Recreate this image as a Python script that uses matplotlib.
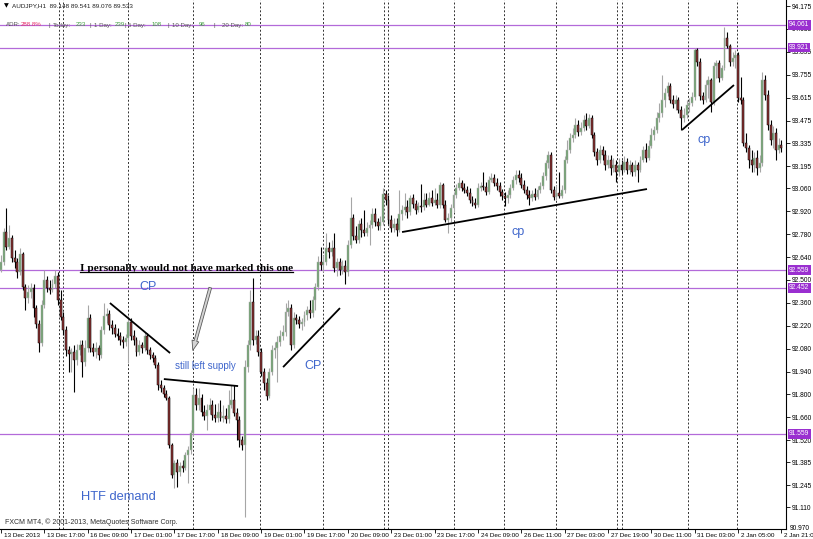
import matplotlib
matplotlib.use("Agg")
import matplotlib.pyplot as plt
import matplotlib.transforms as mtransforms
from matplotlib.lines import Line2D
import numpy as np

plt.rcParams['font.family'] = ['Liberation Sans', 'DejaVu Sans']

# AUDJPY H1 candles (open = previous close)
first_open = 92.561
close = [
    92.610, 92.793, 92.701, 92.756, 92.634, 92.610, 92.549, 92.659, 92.457, 92.389,
    92.426, 92.451, 92.328, 92.231, 92.115, 92.346, 92.500, 92.451, 92.438, 92.476,
    92.524, 92.377, 92.273, 92.194, 92.071, 92.047, 92.059, 92.010, 92.071, 92.102,
    91.998, 92.084, 92.267, 92.084, 92.059, 92.084, 92.040, 92.194, 92.279, 92.292,
    92.225, 92.206, 92.170, 92.157, 92.133, 92.121, 92.145, 92.243, 92.157, 92.133,
    92.059, 92.102, 92.084, 92.157, 92.071, 92.040, 92.022, 91.979, 91.857, 91.839,
    91.802, 91.778, 91.490, 91.306, 91.381, 91.325, 91.362, 91.350, 91.429, 91.460,
    91.564, 91.796, 91.735, 91.778, 91.692, 91.668, 91.704, 91.735, 91.674, 91.655,
    91.692, 91.655, 91.668, 91.649, 91.735, 91.766, 91.686, 91.643, 91.521, 91.490,
    91.967, 92.102, 92.365, 92.133, 92.157, 92.059, 91.937, 91.870, 91.790, 91.937,
    92.071, 92.084, 92.121, 92.157, 92.182, 92.304, 92.328, 92.102, 92.267, 92.255,
    92.231, 92.243, 92.285, 92.316, 92.298, 92.377, 92.457, 92.610, 92.591, 92.610,
    92.695, 92.671, 92.695, 92.573, 92.610, 92.561, 92.585, 92.549, 92.714, 92.879,
    92.769, 92.744, 92.842, 92.805, 92.787, 92.817, 92.835, 92.903, 92.854, 92.830,
    92.854, 93.026, 92.989, 92.866, 92.817, 92.842, 92.805, 92.903, 92.928, 92.946,
    92.915, 93.001, 92.964, 92.928, 92.952, 92.946, 92.989, 92.958, 93.001, 92.970,
    92.989, 92.958, 93.081, 92.958, 92.866, 92.879, 92.940, 93.019, 93.062, 93.093,
    93.062, 93.050, 93.032, 92.989, 92.970, 92.958, 93.062, 93.075, 93.068, 93.038,
    93.111, 93.124, 93.093, 93.075, 93.038, 93.013, 93.001, 93.019, 93.062, 93.111,
    93.142, 93.124, 93.081, 93.050, 93.019, 93.001, 93.026, 93.007, 93.050, 93.075,
    93.136, 93.215, 93.264, 93.050, 93.007, 93.032, 93.013, 93.050, 93.233, 93.295,
    93.368, 93.387, 93.447, 93.405, 93.429, 93.478, 93.441, 93.490, 93.387, 93.282,
    93.233, 93.295, 93.264, 93.203, 93.233, 93.185, 93.203, 93.160, 93.203, 93.172,
    93.221, 93.172, 93.203, 93.160, 93.203, 93.172, 93.233, 93.295, 93.246, 93.319,
    93.387, 93.417, 93.490, 93.521, 93.600, 93.643, 93.686, 93.600, 93.576, 93.600,
    93.539, 93.490, 93.509, 93.570, 93.582, 93.619, 93.906, 93.833, 93.625, 93.600,
    93.692, 93.723, 93.588, 93.808, 93.827, 93.735, 93.796, 93.980, 93.931, 93.833,
    93.857, 93.876, 93.613, 93.600, 93.338, 93.307, 93.233, 93.203, 93.246, 93.185,
    93.215, 93.723, 93.631, 93.447, 93.356, 93.399, 93.295, 93.325, 93.307,
]
high = [
    92.652, 92.817, 92.940, 92.835, 92.774, 92.683, 92.634, 92.695, 92.671, 92.476,
    92.469, 92.482, 92.476, 92.346, 92.255, 92.377, 92.561, 92.524, 92.500, 92.506,
    92.561, 92.549, 92.438, 92.304, 92.218, 92.096, 92.084, 92.102, 92.108, 92.133,
    92.133, 92.133, 92.346, 92.292, 92.115, 92.121, 92.102, 92.218, 92.359, 92.328,
    92.316, 92.255, 92.231, 92.206, 92.182, 92.157, 92.170, 92.279, 92.267, 92.194,
    92.151, 92.133, 92.121, 92.182, 92.176, 92.090, 92.059, 92.040, 91.998, 91.888,
    91.857, 91.827, 91.790, 91.503, 91.399, 91.405, 91.387, 91.399, 91.448, 91.484,
    91.582, 91.839, 91.839, 91.839, 91.802, 91.735, 91.741, 91.778, 91.766, 91.741,
    91.747, 91.766, 91.735, 91.717, 91.827, 91.857, 91.857, 91.717, 91.668, 91.546,
    92.010, 92.133, 92.438, 92.512, 92.194, 92.194, 92.084, 91.961, 91.900, 91.961,
    92.102, 92.121, 92.157, 92.194, 92.225, 92.359, 92.377, 92.353, 92.304, 92.292,
    92.279, 92.267, 92.310, 92.340, 92.377, 92.402, 92.482, 92.646, 92.701, 92.652,
    92.787, 92.732, 92.744, 92.787, 92.634, 92.634, 92.622, 92.622, 92.744, 93.007,
    92.903, 92.830, 92.866, 92.879, 92.928, 92.854, 92.866, 92.940, 92.940, 92.879,
    92.891, 93.062, 93.050, 93.019, 92.897, 92.879, 92.879, 93.050, 92.958, 93.032,
    92.989, 93.019, 93.026, 92.989, 92.977, 93.087, 93.032, 93.032, 93.038, 93.050,
    93.062, 93.032, 93.099, 93.093, 92.989, 92.909, 92.964, 93.038, 93.087, 93.130,
    93.111, 93.093, 93.075, 93.062, 93.013, 93.001, 93.093, 93.099, 93.160, 93.099,
    93.136, 93.154, 93.148, 93.124, 93.099, 93.056, 93.038, 93.050, 93.087, 93.136,
    93.172, 93.172, 93.154, 93.111, 93.075, 93.050, 93.050, 93.062, 93.075, 93.099,
    93.160, 93.233, 93.288, 93.282, 93.075, 93.081, 93.160, 93.081, 93.258, 93.356,
    93.399, 93.429, 93.490, 93.478, 93.466, 93.509, 93.521, 93.515, 93.509, 93.405,
    93.307, 93.325, 93.319, 93.295, 93.264, 93.264, 93.246, 93.233, 93.246, 93.233,
    93.258, 93.246, 93.233, 93.221, 93.233, 93.221, 93.258, 93.319, 93.338, 93.356,
    93.429, 93.441, 93.527, 93.582, 93.753, 93.674, 93.711, 93.704, 93.631, 93.631,
    93.619, 93.564, 93.551, 93.600, 93.613, 93.649, 93.918, 93.918, 93.857, 93.649,
    93.723, 93.747, 93.735, 93.833, 93.845, 93.845, 93.814, 94.047, 94.016, 93.943,
    93.894, 93.906, 93.894, 93.741, 93.619, 93.399, 93.325, 93.295, 93.282, 93.295,
    93.264, 93.772, 93.753, 93.662, 93.478, 93.441, 93.429, 93.368, 93.356,
]
low = [
    92.549, 92.591, 92.683, 92.689, 92.610, 92.573, 92.512, 92.530, 92.438, 92.316,
    92.359, 92.389, 92.273, 92.206, 92.059, 92.096, 92.328, 92.426, 92.414, 92.426,
    92.451, 92.346, 92.255, 92.163, 92.034, 91.937, 91.937, 91.815, 91.979, 92.040,
    91.906, 91.973, 92.059, 92.059, 92.034, 92.022, 92.010, 92.022, 92.170, 92.237,
    92.194, 92.170, 92.151, 92.133, 92.102, 92.084, 92.096, 91.992, 92.133, 92.102,
    92.034, 92.040, 92.053, 92.065, 92.047, 92.016, 91.998, 91.961, 91.827, 91.815,
    91.784, 91.766, 91.472, 91.288, 91.227, 91.233, 91.300, 91.325, 91.337, 91.258,
    91.435, 91.546, 91.704, 91.704, 91.668, 91.643, 91.582, 91.680, 91.643, 91.631,
    91.631, 91.637, 91.631, 91.625, 91.625, 91.717, 91.668, 91.521, 91.478, 91.460,
    91.050, 91.937, 92.071, 92.102, 92.108, 92.034, 91.912, 91.827, 91.766, 91.778,
    91.918, 92.022, 91.876, 92.096, 92.133, 92.157, 92.279, 92.071, 92.084, 92.231,
    92.206, 92.194, 92.218, 92.255, 92.267, 92.273, 92.316, 92.438, 92.561, 92.549,
    92.591, 92.634, 92.646, 92.549, 92.524, 92.530, 92.536, 92.476, 92.524, 92.695,
    92.744, 92.726, 92.726, 92.762, 92.769, 92.769, 92.714, 92.817, 92.830, 92.805,
    92.805, 92.835, 92.958, 92.842, 92.793, 92.793, 92.769, 92.793, 92.866, 92.897,
    92.879, 92.897, 92.940, 92.903, 92.915, 92.915, 92.928, 92.946, 92.952, 92.952,
    92.958, 92.940, 92.940, 92.940, 92.854, 92.787, 92.854, 92.915, 93.001, 93.050,
    93.044, 93.032, 93.013, 92.970, 92.952, 92.940, 92.946, 93.044, 93.050, 93.019,
    93.026, 93.099, 93.075, 93.050, 93.013, 92.989, 92.952, 92.970, 93.001, 93.050,
    93.087, 93.099, 93.062, 93.032, 92.995, 92.958, 92.983, 92.989, 92.995, 93.032,
    93.056, 93.111, 93.185, 93.032, 92.989, 92.989, 93.001, 93.001, 93.032, 93.215,
    93.276, 93.344, 93.368, 93.381, 93.387, 93.411, 93.417, 93.429, 93.368, 93.258,
    93.203, 93.215, 93.233, 93.172, 93.185, 93.142, 93.160, 93.099, 93.136, 93.148,
    93.160, 93.148, 93.148, 93.136, 93.136, 93.099, 93.160, 93.221, 93.221, 93.233,
    93.307, 93.356, 93.399, 93.466, 93.497, 93.558, 93.625, 93.582, 93.551, 93.539,
    93.521, 93.417, 93.466, 93.490, 93.527, 93.564, 93.600, 93.808, 93.600, 93.576,
    93.588, 93.613, 93.527, 93.570, 93.735, 93.711, 93.723, 93.784, 93.918, 93.808,
    93.808, 93.796, 93.588, 93.576, 93.319, 93.282, 93.185, 93.160, 93.160, 93.142,
    93.160, 93.197, 93.600, 93.417, 93.325, 93.307, 93.233, 93.276, 93.282,
]

x_labels = ['13 Dec 2013', '13 Dec 17:00', '16 Dec 09:00', '17 Dec 01:00', '17 Dec 17:00',
            '18 Dec 09:00', '19 Dec 01:00', '19 Dec 17:00', '20 Dec 09:00', '23 Dec 01:00',
            '23 Dec 17:00', '24 Dec 09:00', '26 Dec 11:00', '27 Dec 03:00', '27 Dec 19:00',
            '30 Dec 11:00', '31 Dec 03:00', '2 Jan 05:00', '2 Jan 21:00']
bars_per_label = 16
y_ticks = [94.175, 94.035, 93.895, 93.755, 93.615, 93.475, 93.335, 93.195, 93.060,
           92.920, 92.780, 92.640, 92.500, 92.360, 92.220, 92.080, 91.940, 91.800,
           91.660, 91.520, 91.385, 91.245, 91.110]
bottom_tick = 90.970
levels = [94.061, 93.921, 92.559, 92.452, 91.559]
# period separators, in bar units
separators = [21.4, 23, 47, 71, 95.5, 119, 141.3, 143, 167, 185.5, 205, 227.3, 229, 253.5, 271.5]

W, H = 813, 539
fig = plt.figure(figsize=(W / 100, H / 100), dpi=100)
fig.patch.set_facecolor('white')
ax = fig.add_axes([0, 10 / H, 786 / W, 529 / H])


def px(x, y):
    """pixel position in the screenshot -> figure fraction"""
    return x / W, 1 - y / H


o = np.array([first_open] + close[:-1])
c = np.array(close)
hi = np.maximum(np.array(high), np.maximum(o, c))
lo = np.minimum(np.array(low), np.minimum(o, c))
idx = np.arange(len(c))
bull = c >= o
bottom = np.minimum(o, c)
body = np.maximum(np.abs(c - o), 0.004)

# separators and levels under the candles
for s in separators:
    ax.axvline(s, color='#303030', lw=0.7, ls=(0, (2, 2)), zorder=1)
for lv in levels:
    ax.axhline(lv, color='#b36ad9', lw=0.9, zorder=2)

# candles
ax.vlines(idx[bull], lo[bull], hi[bull], color='#a6a6a6', lw=0.8, zorder=3)
ax.vlines(idx[~bull], lo[~bull], hi[~bull], color='black', lw=0.8, zorder=3)
ax.bar(idx[bull], body[bull], bottom=bottom[bull], width=0.72, color='#6c9e6c',
       edgecolor='#b0b0b0', linewidth=0.35, zorder=4)
ax.bar(idx[~bull], body[~bull], bottom=bottom[~bull], width=0.72, color='#8e3434',
       edgecolor='black', linewidth=0.35, zorder=4)

ax.set_xlim(-0.37, 289.7)
ax.set_ylim(90.977, 94.212)

for sp in ['top', 'left']:
    ax.spines[sp].set_visible(False)
for sp in ['right', 'bottom']:
    ax.spines[sp].set_color('black')
    ax.spines[sp].set_linewidth(0.8)
ax.set_facecolor('white')

ax.yaxis.tick_right()
ax.set_yticks(y_ticks)
ax.set_yticklabels(['%.3f' % v for v in y_ticks])
ax.tick_params(axis='y', direction='out', length=3, width=0.6, pad=1.3, labelsize=4.8, colors='black')
# lowest price label sits on the bottom edge, like MT4 does it
blend = mtransforms.blended_transform_factory(fig.transFigure, ax.transData)
ax.text(790 / W, 90.977, '%.3f' % bottom_tick, transform=blend, ha='left', va='center',
        fontsize=4.8, clip_on=False)

ax.set_xticks(np.arange(len(x_labels)) * bars_per_label)
ax.set_xticklabels(x_labels, ha='left')
ax.tick_params(axis='x', direction='out', length=3, width=0.6, pad=0.2, labelsize=4.6, colors='black')
offset = mtransforms.ScaledTranslation(2 / 72, 0, fig.dpi_scale_trans)
for lbl in ax.get_xticklabels():
    lbl.set_transform(lbl.get_transform() + offset)

# price labels for the horizontal levels
for lv in levels:
    ax.text(789 / W, lv, '%.3f' % lv, transform=blend, ha='left', va='center', fontsize=4.8,
            color='white', zorder=10, clip_on=False,
            bbox=dict(boxstyle='square,pad=0.2', fc='#9a2fd0', ec='none'))

# drawn trend lines
trend_lines = [((40.2, 62.4), (92.359, 92.053)),
               ((60.1, 87.5), (91.894, 91.851)),
               ((104.1, 125.1), (91.967, 92.328)),
               ((148.0, 238.4), (92.793, 93.056)),
               ((251.3, 270.5), (93.417, 93.692))]
for xs, ys in trend_lines:
    ax.plot(xs, ys, color='black', lw=1.3, zorder=6, solid_capstyle='butt')

blue = '#3f66cc'
ax.text(54.2, 92.457, 'CP', color=blue, fontsize=9, ha='center', va='center', zorder=7)
ax.text(75.3, 91.974, 'still left supply', color=blue, fontsize=7, ha='center', va='center', zorder=7)
ax.text(115.1, 91.974, 'CP', color=blue, fontsize=9, ha='center', va='center', zorder=7)
ax.text(190.8, 92.793, 'cp', color=blue, fontsize=9, ha='center', va='center', zorder=7)
ax.text(259.4, 93.356, 'cp', color=blue, fontsize=9, ha='center', va='center', zorder=7)
ax.text(43.2, 91.172, 'HTF demand', color=blue, fontsize=9.3, ha='center', va='center', zorder=7)

ax.annotate('', xy=(70.5, 92.053), xytext=(77.5, 92.469),
            arrowprops=dict(arrowstyle='simple,head_length=0.7,head_width=0.5,tail_width=0.2',
                            fc='#d4d4d4', ec='#5a5a5a', lw=0.6), zorder=7)

note = ax.text(68.3, 92.573, 'I personally would not have marked this one',
               family=['Liberation Serif', 'DejaVu Serif'], weight='bold', fontsize=8.1,
               ha='center', va='center', zorder=8)

# header and footer
fig.text(*px(4, 6), '\u25bc', fontsize=4.5, va='center', family=['DejaVu Sans'])
fig.text(*px(12, 6), 'AUDJPY,H1  89.148 89.541 89.076 89.533', fontsize=4.6, va='center', color='#202020')
grey = '#555555'
green = '#3f9f3f'
header = [(6, 'ADR:', grey), (21, '288.8%', '#e8306a'), (48, '|', grey), (53, 'Today:', grey),
          (76, '233', green), (89, '|', grey), (94, '1 Day:', grey), (115, '239', green),
          (124, '|', grey), (128, '5 Day:', grey), (152, '108', green), (167, '|', grey),
          (172, '10 Day:', grey), (199, '96', green), (213, '|', grey), (222, '20 Day:', grey),
          (245, '80', green)]
for xp, txt, col in header:
    fig.text(*px(xp, 25), txt, fontsize=4.4, va='center', color=col)
fig.text(*px(5, 522), 'FXCM MT4, \u00a9 2001-2013, MetaQuotes Software Corp.', fontsize=5,
         va='center', color='#303030')

# underline for the bold note
fig.canvas.draw()
bb = note.get_window_extent()
fig.add_artist(Line2D([bb.x0 / W, bb.x1 / W], [(bb.y0 + 0.5) / H, (bb.y0 + 0.5) / H],
                      color='black', lw=0.9))

fig.savefig('out.png', dpi=100, facecolor='white')
